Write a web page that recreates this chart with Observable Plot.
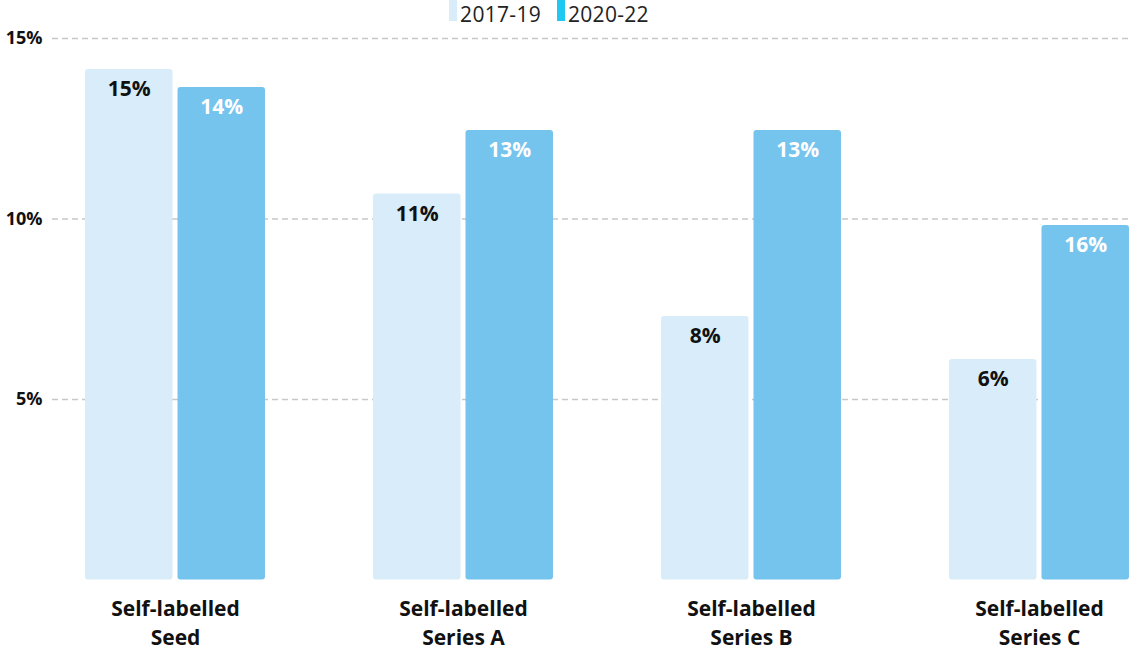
<!DOCTYPE html>
<html><head><meta charset="utf-8">
<script src="https://cdn.jsdelivr.net/npm/d3@7"></script>
<script src="https://cdn.jsdelivr.net/npm/@observablehq/plot@0.6"></script>
<style>
html,body{margin:0;padding:0;background:#fff;}
body{width:1132px;height:652px;overflow:hidden;font-family:"Open Sans",sans-serif;}
#legend{height:26px;box-sizing:border-box;padding-top:4px;display:flex;justify-content:center;align-items:flex-start;padding-right:34px;font-size:21px;color:#222;line-height:21px;letter-spacing:0.3px;}
.item{display:flex;align-items:flex-start;margin:0 8px;}
.sw{width:8px;height:21px;margin-right:3px;margin-top:-4px;}
.tx{display:block;height:21px;line-height:21px;}
</style></head><body>
<div id="legend"></div><div id="chart"></div>
<script>
const categories = ["Self-labelled\nSeed", "Self-labelled\nSeries A", "Self-labelled\nSeries B", "Self-labelled\nSeries C"];
const periods = ["2017-19", "2020-22"];
const values2017 = [14.14, 10.69, 7.30, 6.11];
const values2020 = [13.64, 12.45, 12.45, 9.82];
const labels2017 = ["15%", "11%", "8%", "6%"];
const labels2020 = ["14%", "13%", "13%", "16%"];
const yTicks = [5, 10, 15];
const barColors = ["#d8ecf9", "#74c4ee"];
const legendColors = ["#d8ecf9", "#1ec8f0"];

const d2017 = categories.map((c, i) => ({cat: c, v: values2017[i], label: labels2017[i]}));
const d2020 = categories.map((c, i) => ({cat: c, v: values2020[i], label: labels2020[i]}));

const legend = document.getElementById("legend");
periods.forEach((p, i) => {
  const it = document.createElement("div"); it.className = "item";
  const sw = document.createElement("div"); sw.className = "sw"; sw.style.background = legendColors[i];
  const tx = document.createElement("div"); tx.className = "tx"; tx.textContent = p;
  it.appendChild(sw); it.appendChild(tx); legend.appendChild(it);
});

const chart = Plot.plot({
  width: 1132,
  height: 626,
  marginTop: 12,
  marginBottom: 72.5,
  marginLeft: 52,
  marginRight: -30,
  style: {fontFamily: "'Open Sans', sans-serif", fontSize: "18px", fontWeight: "bold", color: "#111", background: "#fff", overflow: "hidden"},
  x: {type: "band", domain: categories, paddingInner: 0.375, paddingOuter: 0.1146, round: false, axis: null},
  y: {domain: [0, 15], ticks: yTicks, tickFormat: d => d + "%", tickSize: 0, tickPadding: 10, label: null},
  marks: [
    Plot.ruleY(yTicks, {stroke: "#c8c8c8", strokeWidth: 1.5, strokeDasharray: "6,4"}),
    Plot.barY(d2017, {x: "cat", y: "v", fill: barColors[0], insetRight: 92.5, rx: 3}),
    Plot.barY(d2020, {x: "cat", y: "v", fill: barColors[1], insetLeft: 92.5, rx: 3}),
    Plot.text(d2017, {x: "cat", y: "v", text: "label", dx: -46.25, dy: 20, fill: "#111", fontSize: 21, fontWeight: "bold"}),
    Plot.text(d2020, {x: "cat", y: "v", text: "label", dx: 46.25, dy: 20, fill: "#fff", fontSize: 21, fontWeight: "bold"}),
    Plot.text(categories, {x: d => d, frameAnchor: "bottom", lineAnchor: "top", dy: 15.5, lineHeight: 1.38, text: d => d, fill: "#111", fontSize: 21, fontWeight: "bold"})
  ]
});
document.getElementById("chart").appendChild(chart);
</script>
</body></html>
